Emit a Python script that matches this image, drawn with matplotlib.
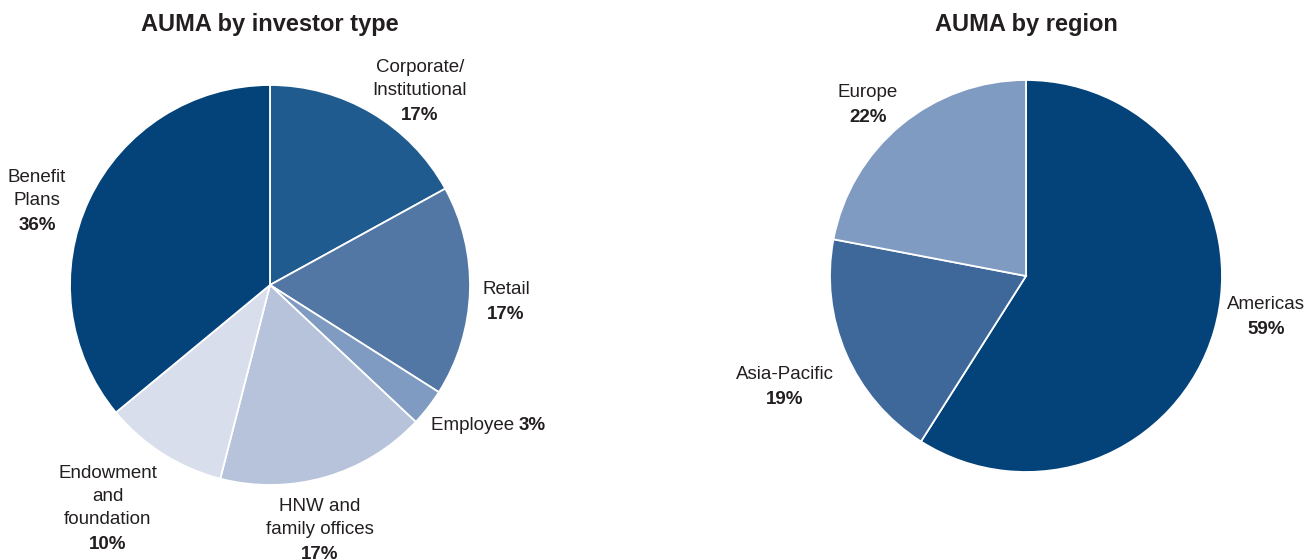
import matplotlib.pyplot as plt

plt.rcParams['font.family'] = ['Liberation Sans Narrow', 'Liberation Sans', 'DejaVu Sans']

# investor type data
inv_labels = ['Corporate/\nInstitutional', 'Retail', 'Employee', 'HNW and\nfamily offices',
              'Endowment\nand\nfoundation', 'Benefit\nPlans']
inv_values = [17, 17, 3, 17, 10, 36]
inv_colors = ['#1f5b8f', '#5277a4', '#7f9bc1', '#b6c3da', '#d9deec', '#03437a']

# region data
reg_labels = ['Americas', 'Asia-Pacific', 'Europe']
reg_values = [59, 19, 22]
reg_colors = ['#03437a', '#3d6899', '#7f9bc1']

# label anchor positions (radius units), boundary between name and percent
inv_pos = [(0.75, 0.91), (1.18, -0.085), (1.255, -0.70), (0.25, -1.285),
           (-0.81, -1.235), (-1.165, 0.36)]
reg_pos = [(1.224, -0.21), (-1.23, -0.566), (-0.806, 0.873)]

txt_col = '#231f20'
W, H = 1309, 559
fig = plt.figure(figsize=(W / 100, H / 100), dpi=100)


def draw_pie(cx, cy, r, values, colors, labels, pos, title, inline=None):
    ax = fig.add_axes([(cx - r) / W, (H - cy - r) / H, 2 * r / W, 2 * r / H])
    ax.pie(values, colors=colors, startangle=90, counterclock=False, radius=1,
           wedgeprops=dict(edgecolor='white', linewidth=1.3))
    ax.set_xlim(-1, 1)
    ax.set_ylim(-1, 1)
    ax.set_aspect('equal')
    ax.axis('off')
    g = 4 / r  # half gap between name block and percent line
    for i, (lab, v, (x, y)) in enumerate(zip(labels, values, pos)):
        if inline == i:
            ax.text(x - 0.01, y, lab + ' ', ha='right', va='center', fontsize=13.5,
                    color=txt_col, clip_on=False)
            ax.text(x - 0.01, y, f'{v}%', ha='left', va='center', fontsize=13.5,
                    fontweight='bold', color=txt_col, clip_on=False)
        else:
            ax.text(x, y + g, lab, ha='center', va='bottom', fontsize=13.5,
                    color=txt_col, clip_on=False, linespacing=1.45)
            ax.text(x, y - g, f'{v}%', ha='center', va='top', fontsize=13.5,
                    fontweight='bold', color=txt_col, clip_on=False)
    fig.text(cx / W, 1 - 24 / H, title, ha='center', va='center', fontsize=17,
             fontweight='bold', color=txt_col)


draw_pie(270, 285, 200, inv_values, inv_colors, inv_labels, inv_pos,
         'AUMA by investor type', inline=2)
draw_pie(1026, 276, 196, reg_values, reg_colors, reg_labels, reg_pos,
         'AUMA by region')

fig.savefig('out.png', dpi=100)
